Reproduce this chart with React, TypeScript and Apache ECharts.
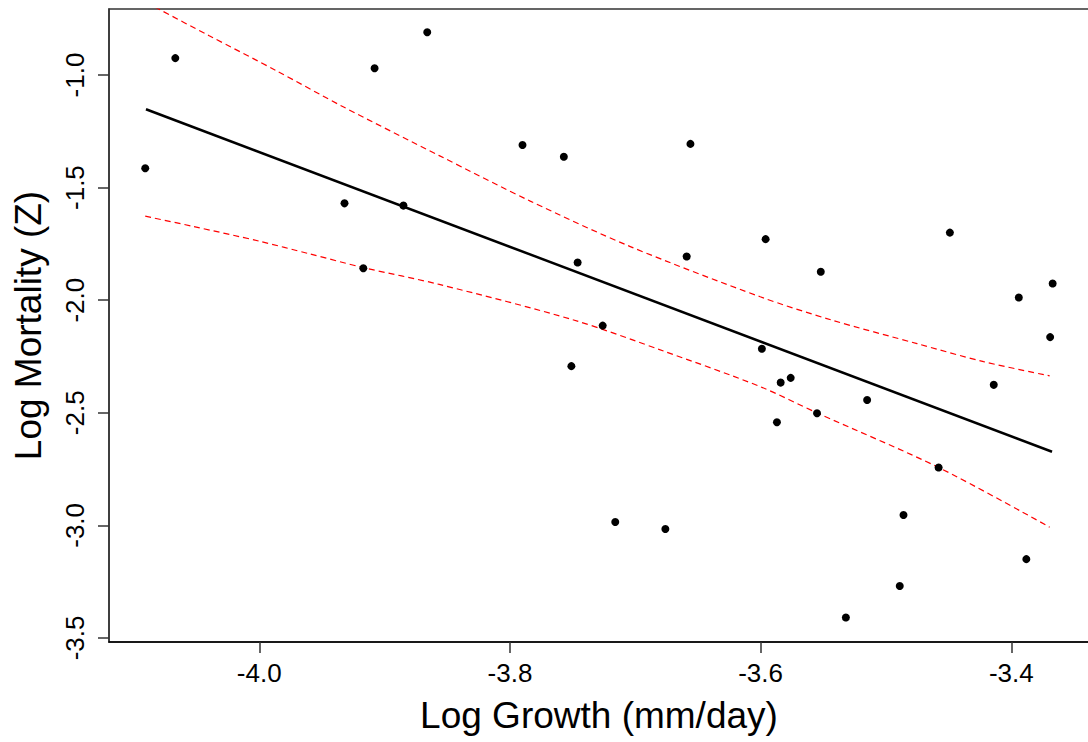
import React, { useEffect, useRef } from "react";
import * as echarts from "echarts";

// Observed points: Log Growth (mm/day) vs Log Mortality (Z)
const logGrowth = [
  -4.091, -4.067, -3.908, -3.866, -3.932, -3.885, -3.917, -3.790, -3.757, -3.656,
  -3.746, -3.659, -3.726, -3.596, -3.552, -3.449, -3.394, -3.367, -3.751, -3.716,
  -3.676, -3.599, -3.584, -3.576, -3.587, -3.555, -3.515, -3.458, -3.486, -3.489,
  -3.532, -3.414, -3.369, -3.388,
];
const logMortality = [
  -1.414, -0.925, -0.970, -0.810, -1.570, -1.580, -1.858, -1.311, -1.363, -1.306,
  -1.833, -1.806, -2.113, -1.729, -1.874, -1.700, -1.988, -1.926, -2.293, -2.985,
  -3.016, -2.216, -2.366, -2.345, -2.542, -2.502, -2.443, -2.743, -2.954, -3.269,
  -3.409, -2.376, -2.164, -3.150,
];

// Fitted regression line
const fitX = [-4.0904, -3.3675];
const fitY = [-1.152, -2.673];

// Upper confidence band
const upperX = [-4.0904, -4.0811, -4.0399, -3.9867, -3.9335, -3.8564, -3.7838, -3.704, -3.6003, -3.5441, -3.4752, -3.4221, -3.3694];
const upperY = [-0.678, -0.705, -0.826, -0.980, -1.140, -1.358, -1.560, -1.762, -1.985, -2.087, -2.193, -2.273, -2.336];

// Lower confidence band
const lowerX = [-4.091, -4.0532, -4.0, -3.9601, -3.9165, -3.8564, -3.7492, -3.6774, -3.6003, -3.5553, -3.458, -3.3694];
const lowerY = [-1.627, -1.672, -1.738, -1.794, -1.856, -1.930, -2.088, -2.226, -2.384, -2.500, -2.743, -3.008];

// Tick values
const xTicks = [-4.0, -3.8, -3.6, -3.4];
const yTicks = [-3.5, -3.0, -2.5, -2.0, -1.5, -1.0];

const xMin = -4.1199;
const xMax = -3.338;
const yMin = -3.518;
const yMax = -0.707;

const FONT = "Liberation Sans, Arial, sans-serif";

export default function App() {
  const ref = useRef<HTMLDivElement>(null);

  useEffect(() => {
    if (!ref.current) return;
    const chart = echarts.init(ref.current, null, { renderer: "svg" });
    const zip = (a: number[], b: number[]) => a.map((v, i) => [v, b[i]]);
    const axisColor = "#333";
    chart.setOption({
      animation: false,
      backgroundColor: "#fff",
      grid: {
        left: 109,
        top: 9,
        width: 980,
        height: 633,
        show: true,
        borderColor: axisColor,
        borderWidth: 1.5,
        outerBoundsMode: "none",
        containLabel: false,
      },
      xAxis: {
        type: "value",
        min: xMin,
        max: xMax,
        name: "Log Growth (mm/day)",
        nameLocation: "middle",
        nameGap: 55,
        nameTextStyle: { fontSize: 37, fontFamily: FONT, color: "#000" },
        axisLine: { show: true, onZero: false, lineStyle: { color: "#000", width: 1.5 } },
        axisTick: { show: true, length: 11, lineStyle: { color: axisColor, width: 1.5 }, customValues: xTicks },
        axisLabel: {
          customValues: xTicks,
          margin: 18,
          fontSize: 26,
          fontFamily: FONT,
          color: "#000",
          formatter: (v: number) => v.toFixed(1),
        },
        splitLine: { show: false },
      },
      yAxis: {
        type: "value",
        min: yMin,
        max: yMax,
        name: "Log Mortality (Z)",
        nameLocation: "middle",
        nameGap: 62,
        nameTextStyle: { fontSize: 37, fontFamily: FONT, color: "#000" },
        axisLine: { show: true, onZero: false, lineStyle: { color: axisColor, width: 1.5 } },
        axisTick: { show: true, length: 11, lineStyle: { color: axisColor, width: 1.5 }, customValues: yTicks },
        axisLabel: {
          customValues: yTicks,
          rotate: 90,
          margin: 21,
          fontSize: 26,
          fontFamily: FONT,
          color: "#000",
          formatter: (v: number) => v.toFixed(1),
        },
        splitLine: { show: false },
      },
      series: [
        {
          type: "line",
          data: zip(upperX, upperY),
          showSymbol: false,
          smooth: 0.3,
          lineStyle: { color: "#ff0000", width: 1.2, type: [6, 4] },
          z: 2,
        },
        {
          type: "line",
          data: zip(lowerX, lowerY),
          showSymbol: false,
          smooth: 0.3,
          lineStyle: { color: "#ff0000", width: 1.2, type: [6, 4] },
          z: 2,
        },
        {
          type: "line",
          data: zip(fitX, fitY),
          showSymbol: false,
          lineStyle: { color: "#000", width: 2.5 },
          z: 3,
        },
        {
          type: "scatter",
          data: zip(logGrowth, logMortality),
          symbol: "circle",
          symbolSize: 8,
          itemStyle: { color: "#000", opacity: 1 },
          z: 4,
        },
      ],
    });
    return () => chart.dispose();
  }, []);

  return (
    <div
      ref={ref}
      style={{ position: "fixed", left: 0, top: 0, width: 1088, height: 742, background: "#fff" }}
    />
  );
}
